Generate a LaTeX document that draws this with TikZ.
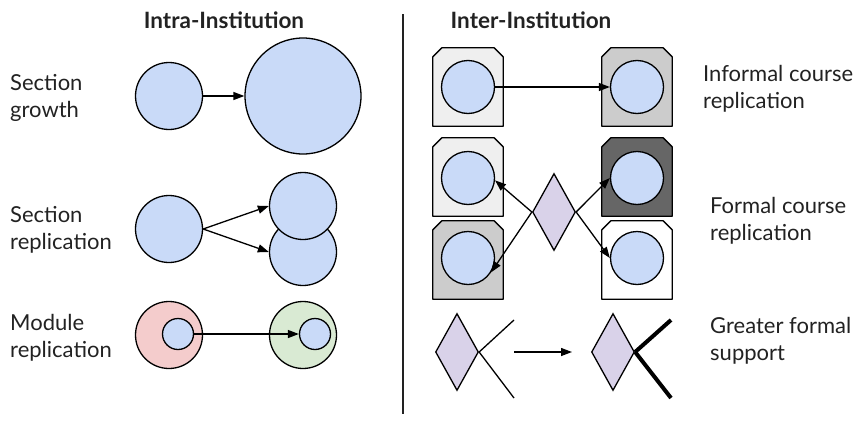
\documentclass[tikz,border=0pt]{standalone}
\usepackage{fontspec}
\setmainfont{Lato}
\usetikzlibrary{positioning, arrows.meta, shapes.geometric}

\definecolor{secblue}{HTML}{C9DAF8}
\definecolor{modred}{HTML}{F4CCCC}
\definecolor{modgreen}{HTML}{D9EAD3}
\definecolor{supviolet}{HTML}{D9D2E9}
\definecolor{instlight}{HTML}{EFEFEF}
\definecolor{instmid}{HTML}{CCCCCC}
\definecolor{instdark}{HTML}{666666}
\definecolor{txt}{HTML}{222222}

% institution frame: square with the two top corners cut off
\newcommand{\instframe}[2]{%
  \filldraw[fill=#2, line width=1.3pt, line join=round]
    ([yshift=-9pt]#1.north west) -- ([xshift=9pt]#1.north west)
    -- ([xshift=-9pt]#1.north east) -- ([yshift=-9pt]#1.north east)
    -- (#1.south east) -- (#1.south west) -- cycle;}

\begin{document}
\begin{tikzpicture}[
    x=1pt, y=-1pt,
    heading/.style={font=\bfseries\fontsize{22.5}{26}\selectfont, text=txt},
    caption/.style={font=\fontsize{22}{27}\selectfont, align=left, anchor=west, text=txt, inner sep=0pt},
    sec/.style={circle, draw, line width=1.3pt, fill=secblue, inner sep=0pt, minimum size=#1},
    sec/.default=67pt,
    inst/.style={rectangle, inner sep=0pt, minimum width=70pt, minimum height=78pt},
    supp/.style={diamond, draw, line width=1.3pt, fill=supviolet, inner sep=0pt,
                 minimum width=43pt, minimum height=77pt},
    arrow/.style={-{Triangle[length=11pt, width=8pt]}, line width=1.3pt},
]
\useasboundingbox (0,0) rectangle (859,423);

% column headings and divider
\node[heading] (intra) at (224,20) {Intra-Institution};
\node[heading] (inter) at (531,20) {Inter-Institution};
\draw[line width=1.6pt, txt] (403,14) -- (403,414);

% left captions
\node[caption] (lgrow) at (10,98) {Section\\growth};
\node[caption] (lrepl) at (10,230) {Section\\replication};
\node[caption] (lmod) at (10,338) {Module\\replication};

% section growth
\node[sec] (sg) at (169,96) {};
\node[sec=116pt] (sgbig) at (303,96) {};
\draw[arrow] (sg.east) -- (sgbig.west);

% section replication
\node[sec] (sr) at (169,229) {};
\node[sec] (srb) at (303,252) {};
\node[sec] (sra) at (303,206) {};
\draw[arrow] (sr.east) -- (sra.west);
\draw[arrow] (sr.east) -- (srb.west);

% module replication
\node[sec, fill=modred] (mod) at (169,335) {};
\node[sec=31pt] (modin) at (178,334) {};
\node[sec, fill=modgreen] (modcopy) at (303,335) {};
\node[sec=31pt] (modcopyin) at (315,334) {};
\draw[arrow] (modin.east) -- (modcopyin.west);

% informal course replication
\node[inst] (ia) at (468,87) {};
\node[inst] (ib) at (637,87) {};
\instframe{ia}{instlight}
\instframe{ib}{instmid}
\node[sec=53pt] (ica) at (ia) {};
\node[sec=53pt] (icb) at (ib) {};
\draw[arrow] (ica.east) -- (icb.west);

% formal course replication
\node[inst] (fa) at (468,177) {};
\node[inst] (fb) at (468,260) {};
\node[inst] (fc) at (637,177) {};
\node[inst] (fd) at (637,260) {};
\instframe{fa}{instlight}
\instframe{fb}{instmid}
\instframe{fc}{instdark}
\instframe{fd}{white}
\node[sec=53pt] (fca) at (468,178) {};
\node[sec=53pt] (fcb) at (468,258) {};
\node[sec=53pt] (fcc) at (637,178) {};
\node[sec=53pt] (fcd) at (637,258) {};
\node[supp] (fs) at (554,212) {};
\draw[arrow] (fs.west) -- (fca.-5);
\draw[arrow] (fs.west) -- (fcb.-32);
\draw[arrow] (fs.east) -- (fcc.west);
\draw[arrow] (fs.east) -- (fcd.west);

% greater formal support
\node[supp] (gs) at (457,352) {};
\coordinate (gsup) at (514,320);
\coordinate (gsdn) at (514,398);
\draw[line width=1.3pt] (gs.east) -- (gsup);
\draw[line width=1.3pt] (gs.east) -- (gsdn);
\coordinate (gfrom) at (514,352);
\coordinate (gto) at (572,352);
\draw[arrow] (gfrom) -- (gto);
\node[supp] (gt) at (613,352) {};
\coordinate (gtup) at (671,320);
\coordinate (gtdn) at (671,398);
\draw[line width=4pt] (gt.east) -- (gtup);
\draw[line width=4pt] (gt.east) -- (gtdn);

% right captions
\node[caption] (rinf) at (703,89) {Informal course\\replication};
\node[caption] (rform) at (710,221) {Formal course\\replication};
\node[caption] (rgreat) at (710,341) {Greater formal\\support};
\end{tikzpicture}
\end{document}
